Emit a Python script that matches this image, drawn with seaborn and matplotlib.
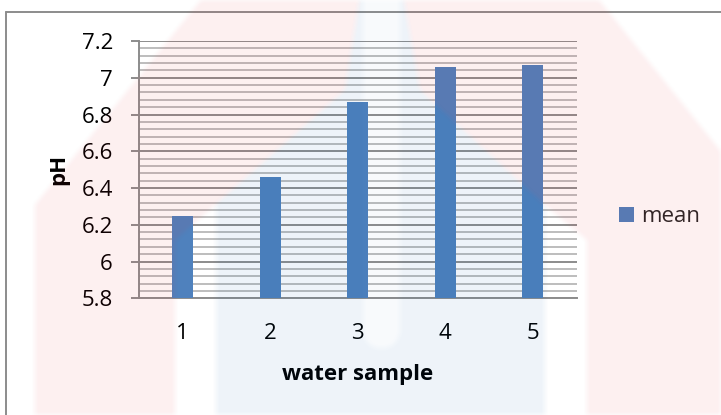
import numpy as np
import pandas as pd
import matplotlib
matplotlib.use("Agg")
import matplotlib.pyplot as plt
from matplotlib.path import Path
from matplotlib.lines import Line2D
from matplotlib.patches import Patch
from matplotlib.ticker import MultipleLocator
import seaborn as sns

# ---- data -------------------------------------------------------------
samples = ["1", "2", "3", "4", "5"]
ph_mean = [6.25, 6.46, 6.87, 7.06, 7.07]
series_name = "mean"
y_ticks = [5.8, 6.0, 6.2, 6.4, 6.6, 6.8, 7.0, 7.2]
y_tick_labels = ["5.8", "6", "6.2", "6.4", "6.6", "6.8", "7", "7.2"]
x_title = "water sample"
y_title = "pH"

# ---- style ------------------------------------------------------------
sns.set_theme(style="white")
plt.rcParams["font.family"] = ["Open Sans", "DejaVu Sans"]

BAR = "#4F81BD"
MAJOR = "#8C8C8C"
MINOR = "#B2B2B2"
FS = 16

W, H = 721, 415
fig = plt.figure(figsize=(W / 100, H / 100), dpi=100)
fig.patch.set_facecolor("white")

ax = fig.add_axes([139 / W, 1 - 298.3 / H, (576.5 - 139) / W, (298.3 - 41) / H])
ax.patch.set_alpha(0)

df = pd.DataFrame({"sample": samples, "pH": ph_mean})
sns.barplot(data=df, x="sample", y="pH", color=BAR, width=0.245,
            saturation=1, ax=ax, linewidth=0, zorder=3)

ax.set_ylim(5.8, 7.2)
ax.set_yticks(y_ticks)
ax.set_yticklabels(y_tick_labels)
ax.yaxis.set_minor_locator(MultipleLocator(0.04))
ax.set_axisbelow(True)
ax.yaxis.grid(True, which="major", color=MAJOR, lw=1.4)
ax.yaxis.grid(True, which="minor", color=MINOR, lw=1.2)
ax.xaxis.grid(False)

for side in ("top", "right"):
    ax.spines[side].set_visible(False)
for side in ("left", "bottom"):
    ax.spines[side].set_color(MAJOR)
    ax.spines[side].set_linewidth(1.4)

ax.tick_params(axis="y", which="major", left=True, length=5.8, width=1.4,
               color=MAJOR, pad=13, labelsize=FS, labelcolor="black")
ax.tick_params(axis="y", which="minor", left=False, length=0)
ax.tick_params(axis="x", bottom=False, length=0, pad=18, labelsize=FS,
               labelcolor="black")

ax.set_xlabel(x_title, fontsize=FS, fontweight="bold", labelpad=14, color="black")
ax.set_ylabel(y_title, fontsize=FS, fontweight="bold", labelpad=9, color="black")

handles = [Patch(facecolor=BAR, edgecolor="none", label=series_name)]
ax.legend(handles=handles, loc="center left",
          bbox_to_anchor=(619 / W, 1 - 216.5 / H), bbox_transform=fig.transFigure,
          frameon=False, fontsize=FS, handlelength=0.68, handleheight=0.68,
          handletextpad=0.32, borderpad=0, borderaxespad=0)

# chart-area frame (top and left edges)
fig.add_artist(Line2D([6 / W, 1.01], [1 - 12 / H, 1 - 12 / H],
                      transform=fig.transFigure, color=MAJOR, lw=1.4))
fig.add_artist(Line2D([6 / W, 6 / W], [1 - 12 / H, -0.01],
                      transform=fig.transFigure, color=MAJOR, lw=1.4))

# ---- faint logo watermark laid over the chart --------------------------
yy, xx = np.mgrid[0:H, 0:W] + 0.5
pts = np.column_stack([xx.ravel(), yy.ravel()])


def inside(poly):
    return Path(poly).contains_points(pts).reshape(H, W)


left_arm = [(205, -5), (360, -5), (345, 90), (215, 205), (175, 240),
            (175, 420), (35, 420), (35, 205)]
right_arm = [(403, -5), (595, -5), (760, 200), (760, 420), (587, 420),
             (587, 240), (545, 205), (420, 90)]
u_shape = [(216, -5), (545, -5), (545, 420), (216, 420)]
theta = np.linspace(0, np.pi, 20)
slot = [(363, -5), (400, -5)] + [(381.5 + 18.5 * np.cos(t), 330 + 18.5 * np.sin(t))
                                 for t in theta]

red = inside(left_arm) | inside(right_arm)
slot_m = inside(slot) & ~red
blue = inside(u_shape) & ~red & ~slot_m


def box_blur(a, k=7):
    ker = np.ones(k) / k
    a = np.apply_along_axis(lambda r: np.convolve(r, ker, mode="same"), 1, a)
    a = np.apply_along_axis(lambda c: np.convolve(c, ker, mode="same"), 0, a)
    return a


blue_alpha = blue * 0.07 + slot_m * 0.03
blue_img = np.zeros((H, W, 4))
blue_img[..., :3] = (0.0, 0.35, 0.67)
blue_img[..., 3] = box_blur(blue_alpha.astype(float))

red_img = np.zeros((H, W, 4))
red_img[..., :3] = (0.90, 0.12, 0.16)
red_img[..., 3] = box_blur(red.astype(float)) * 0.07

fig.figimage(blue_img, xo=0, yo=0, origin="upper", zorder=10)
fig.figimage(red_img, xo=0, yo=0, origin="upper", zorder=11)

fig.savefig("out.png", dpi=100, facecolor="white")
